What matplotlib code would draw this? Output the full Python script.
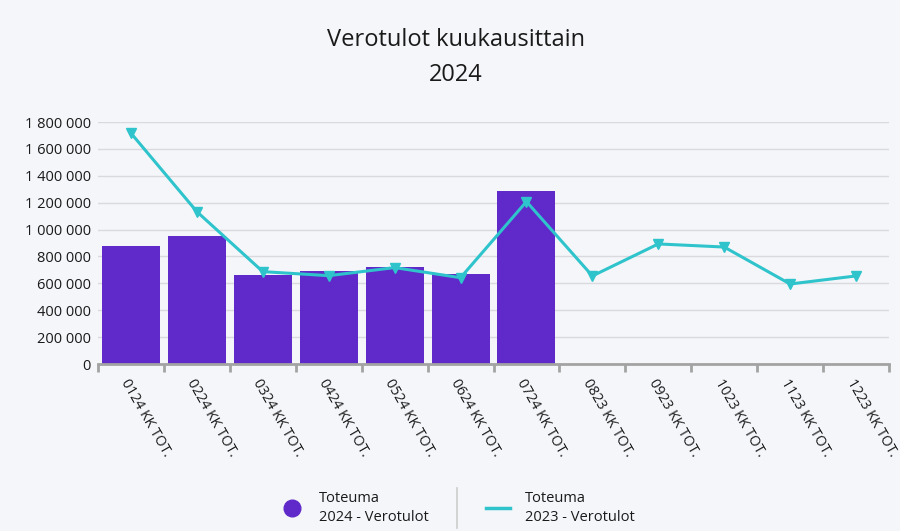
import matplotlib
matplotlib.use("Agg")
import matplotlib.pyplot as plt
from matplotlib.lines import Line2D
import numpy as np

categories = ["0124 KK TOT.", "0224 KK TOT.", "0324 KK TOT.", "0424 KK TOT.",
              "0524 KK TOT.", "0624 KK TOT.", "0724 KK TOT.", "0823 KK TOT.",
              "0923 KK TOT.", "1023 KK TOT.", "1123 KK TOT.", "1223 KK TOT."]
toteuma_2024 = [880000, 955000, 660000, 692000, 722000, 667000, 1285000]
toteuma_2023 = [1717000, 1133000, 687000, 657000, 717000, 642000, 1208000,
                655000, 893000, 870000, 595000, 655000]
yticks = [0, 200000, 400000, 600000, 800000, 1000000, 1200000, 1400000, 1600000, 1800000]

BAR = "#6029c9"
LINE = "#2fc4cc"
BG = "#f5f6fa"
FONT = ["Open Sans", "DejaVu Sans"]
plt.rcParams['font.family'] = FONT

fig = plt.figure(figsize=(9, 5.31), dpi=100, facecolor=BG)
ax = fig.add_axes([98/900, 1-364/531, (889-98)/900, (364-122)/531])
ax.set_facecolor(BG)

x = np.arange(len(categories))
ax.bar(x[:len(toteuma_2024)], toteuma_2024, width=0.88, color=BAR, zorder=2)
ax.plot(x, toteuma_2023, color=LINE, lw=2.2, marker="v", markersize=7.5,
        markeredgecolor=LINE, markerfacecolor=LINE, zorder=3, clip_on=False)

ax.set_xlim(-0.5, len(categories) - 0.5)
ax.set_ylim(0, 1800000)
ax.set_yticks(yticks)
ax.set_yticklabels([f"{v:,}".replace(",", " ") for v in yticks], fontsize=10.5, color="#1a1a1a")
ax.yaxis.grid(True, color="#d9d9de", lw=1, zorder=0)
ax.tick_params(axis="y", length=0, pad=5)

ax.set_xticks(x)
ax.set_xticklabels(categories, rotation=-60, ha="left", va="top",
                   rotation_mode="anchor", fontsize=10.2, color="#1a1a1a")
ax.tick_params(axis="x", length=0, pad=9)
ax.set_xticks(np.arange(-0.5, len(categories), 1), minor=True)
ax.tick_params(axis="x", which="minor", length=6, width=2, color="#a3a3a3")

for s in ["top", "right", "left"]:
    ax.spines[s].set_visible(False)
ax.spines["bottom"].set_color("#a3a3a3")
ax.spines["bottom"].set_linewidth(2)

fig.text(456/900, 1-40/531, "Verotulot kuukausittain", ha="center", va="center",
         fontsize=17, color="#1a1a1a")
fig.text(456/900, 1-75/531, "2024", ha="center", va="center",
         fontsize=17, color="#1a1a1a")

# legend
ly = 1-508/531
fig.add_artist(Line2D([292/900], [ly], marker="o", markersize=12, color=BAR,
                      transform=fig.transFigure, linestyle="none"))
fig.text(319/900, ly, "Toteuma\n2024 - Verotulot", ha="left", va="center",
         fontsize=10.5, color="#1a1a1a", linespacing=1.35)
fig.add_artist(Line2D([457/900, 457/900], [1-488/531, 1-528/531], color="#cccccc",
                      lw=1.2, transform=fig.transFigure))
fig.add_artist(Line2D([486/900, 510/900], [ly, ly], color=LINE, lw=2.5,
                      transform=fig.transFigure))
fig.text(525/900, ly, "Toteuma\n2023 - Verotulot", ha="left", va="center",
         fontsize=10.5, color="#1a1a1a", linespacing=1.35)

fig.savefig("out.png", dpi=100, facecolor=BG)
